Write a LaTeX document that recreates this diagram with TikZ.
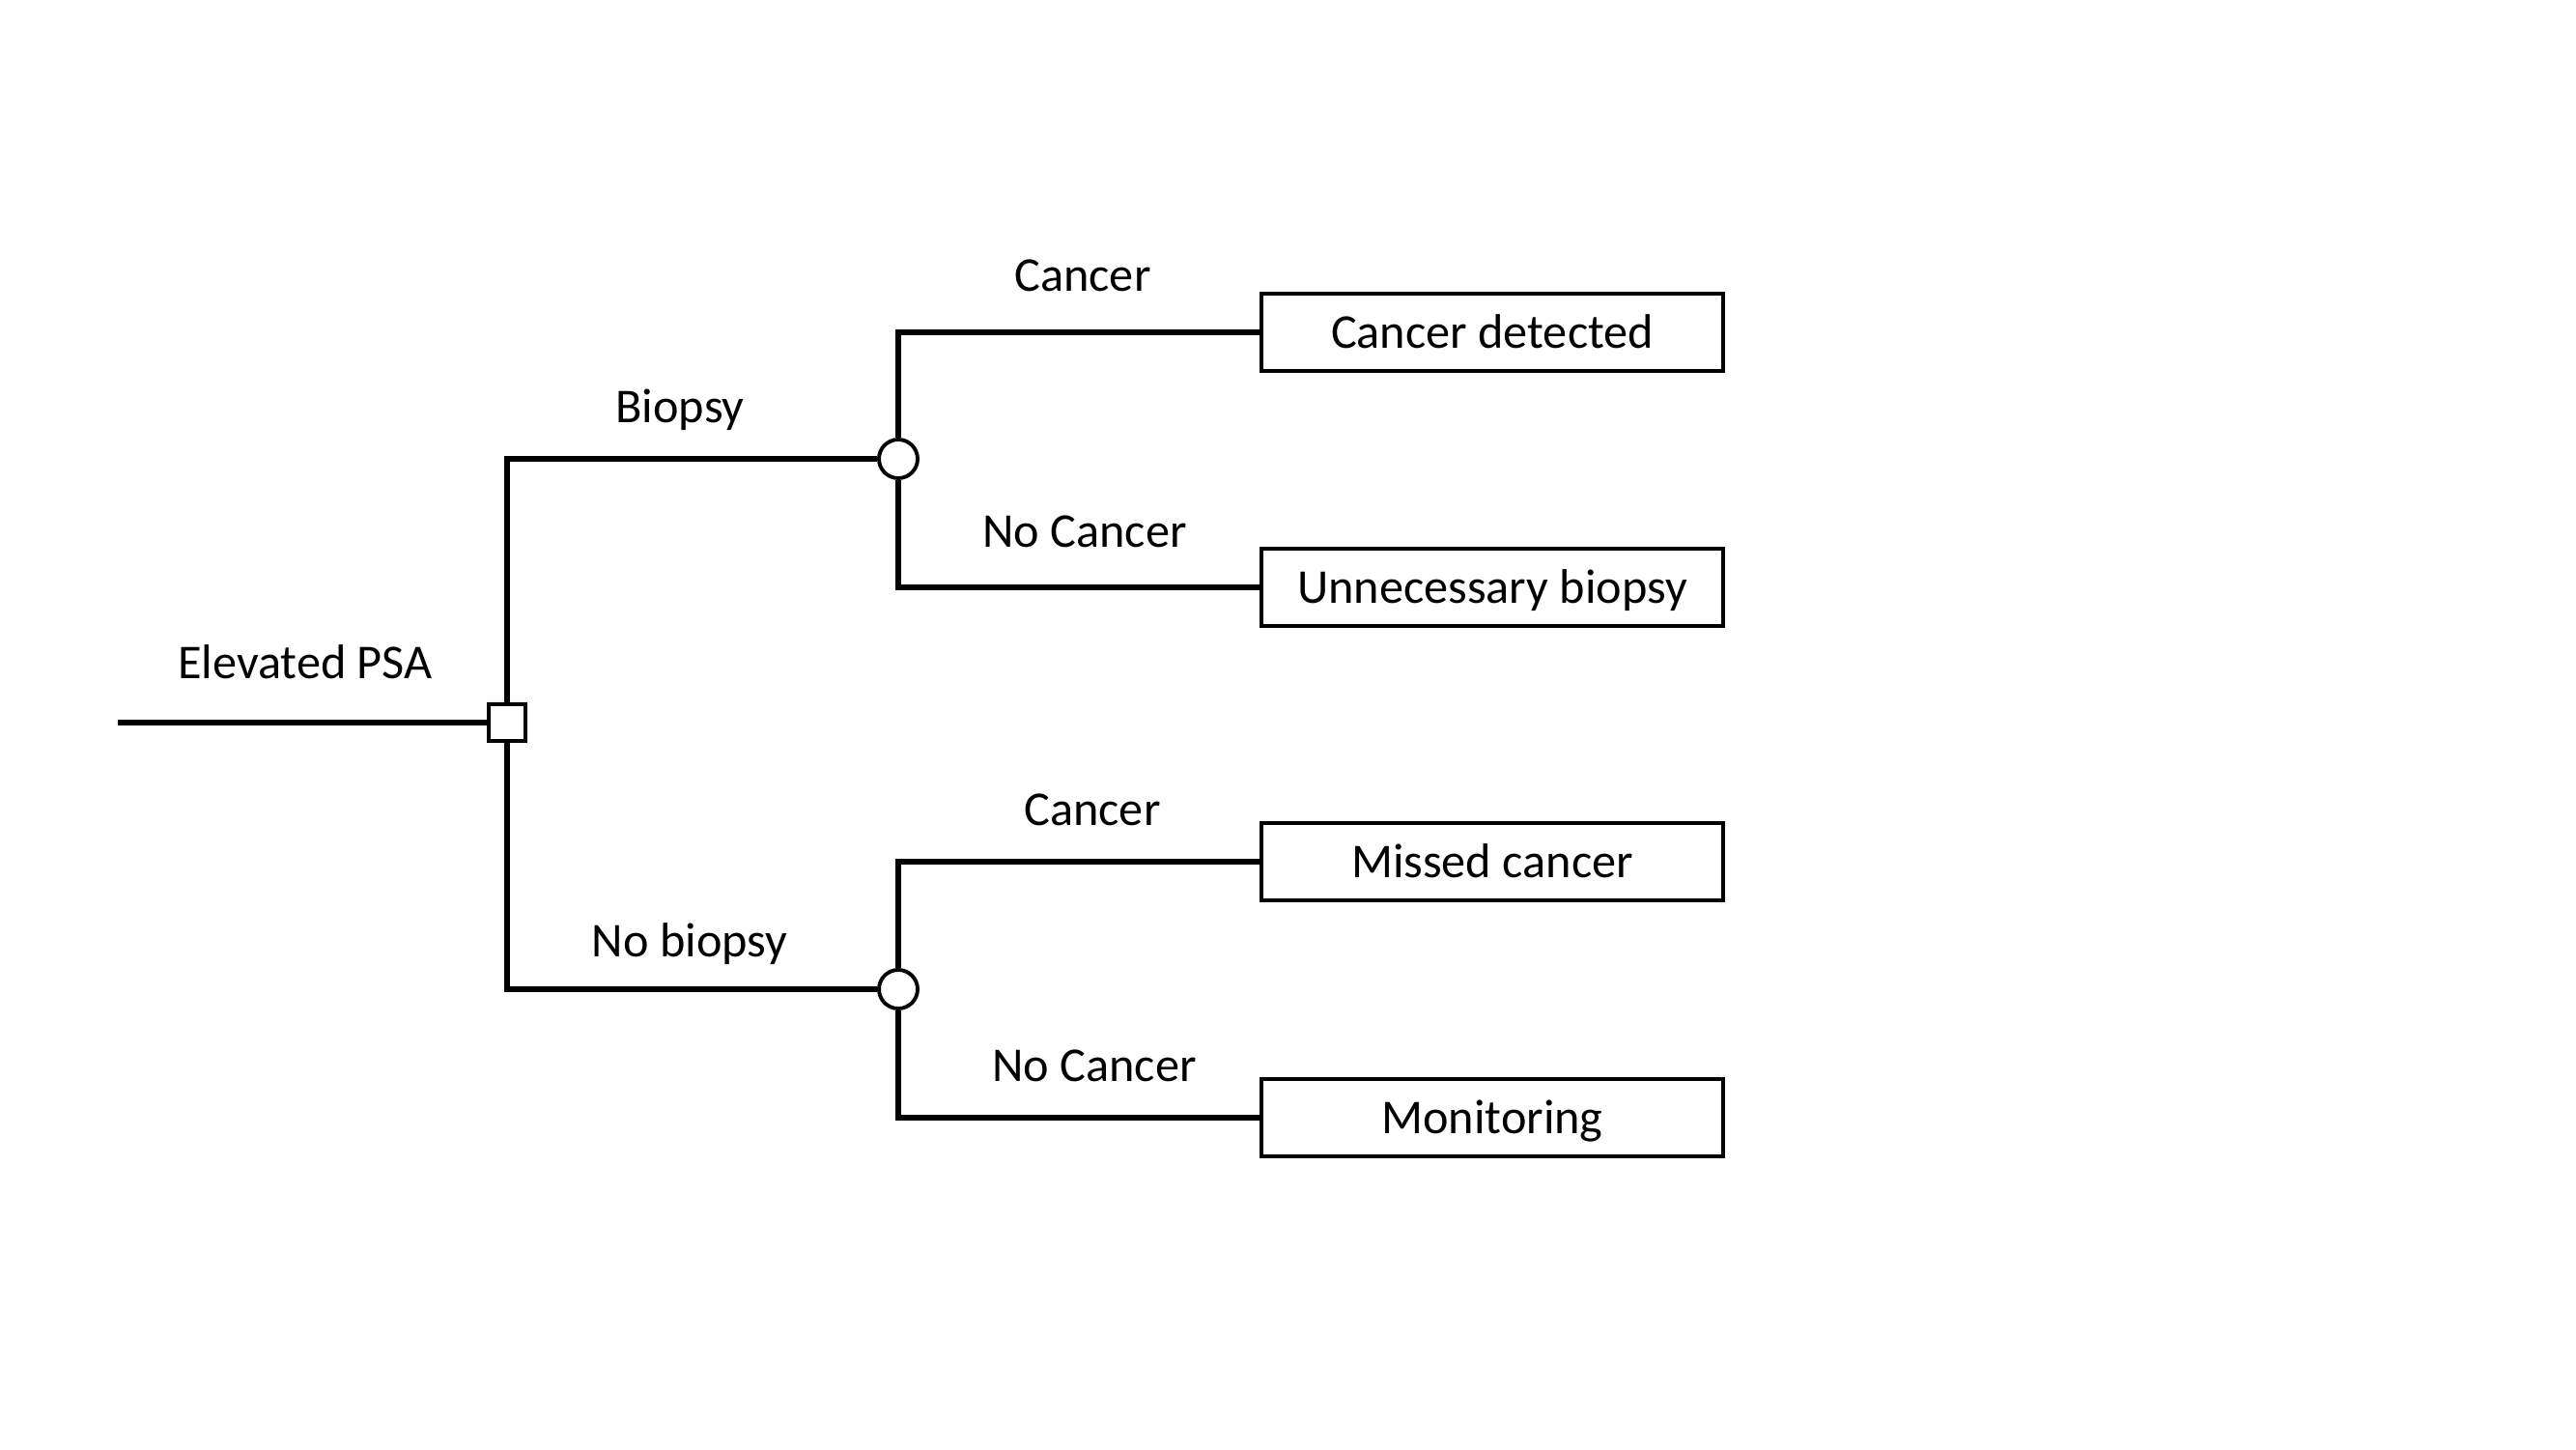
\documentclass[tikz,border=0pt]{standalone}
\usepackage{fontspec}
\setmainfont{Carlito}
\usepackage{tikz}

\tikzset{
  branch/.style={line width=1.9pt},
  decision/.style={draw,line width=1.1pt,fill=white,minimum size=0.38cm,inner sep=0pt},
  chance/.style={draw,circle,line width=1.1pt,fill=white,minimum size=0.4cm,inner sep=0pt},
  outcome/.style={draw,line width=1.1pt,minimum width=4.78cm,minimum height=0.8cm,inner sep=0pt,
    text height=0.96em,text depth=0pt},
  lbl/.style={inner sep=0pt}
}

\begin{document}
\begin{tikzpicture}[font=\fontsize{14.3}{17}\selectfont]
\useasboundingbox (0,0) rectangle (26.67,15);
\coordinate (start) at (1.22,7.52);
\node[decision] (dec) at (5.25,7.52) {};
\node[chance] (chA) at (9.30,10.25) {};
\node[chance] (chB) at (9.30,4.76) {};
\node[outcome] (outA) at (15.45,11.56) {Cancer detected};
\node[outcome] (outB) at (15.45,8.92) {Unnecessary biopsy};
\node[outcome] (outC) at (15.45,6.08) {Missed cancer};
\node[outcome] (outD) at (15.45,3.43) {Monitoring};
\draw[branch] (start)--(dec.west);
\draw[branch] (dec.north)|-(chA.west);
\draw[branch] (dec.south)|-(chB.west);
\draw[branch] (chA.north)|-(outA.west);
\draw[branch] (chA.south)|-(outB.west);
\draw[branch] (chB.north)|-(outC.west);
\draw[branch] (chB.south)|-(outD.west);
\node[lbl] (psa) at (3.16,8.15) {Elevated PSA};
\node[lbl] (bio) at (7.04,10.76) {Biopsy};
\node[lbl] (nobio) at (7.14,5.23) {No biopsy};
\node[lbl] (canA) at (11.21,12.15) {Cancer};
\node[lbl] (nocanA) at (11.23,9.50) {No Cancer};
\node[lbl] (canB) at (11.31,6.62) {Cancer};
\node[lbl] (nocanB) at (11.33,3.97) {No Cancer};
\end{tikzpicture}
\end{document}
